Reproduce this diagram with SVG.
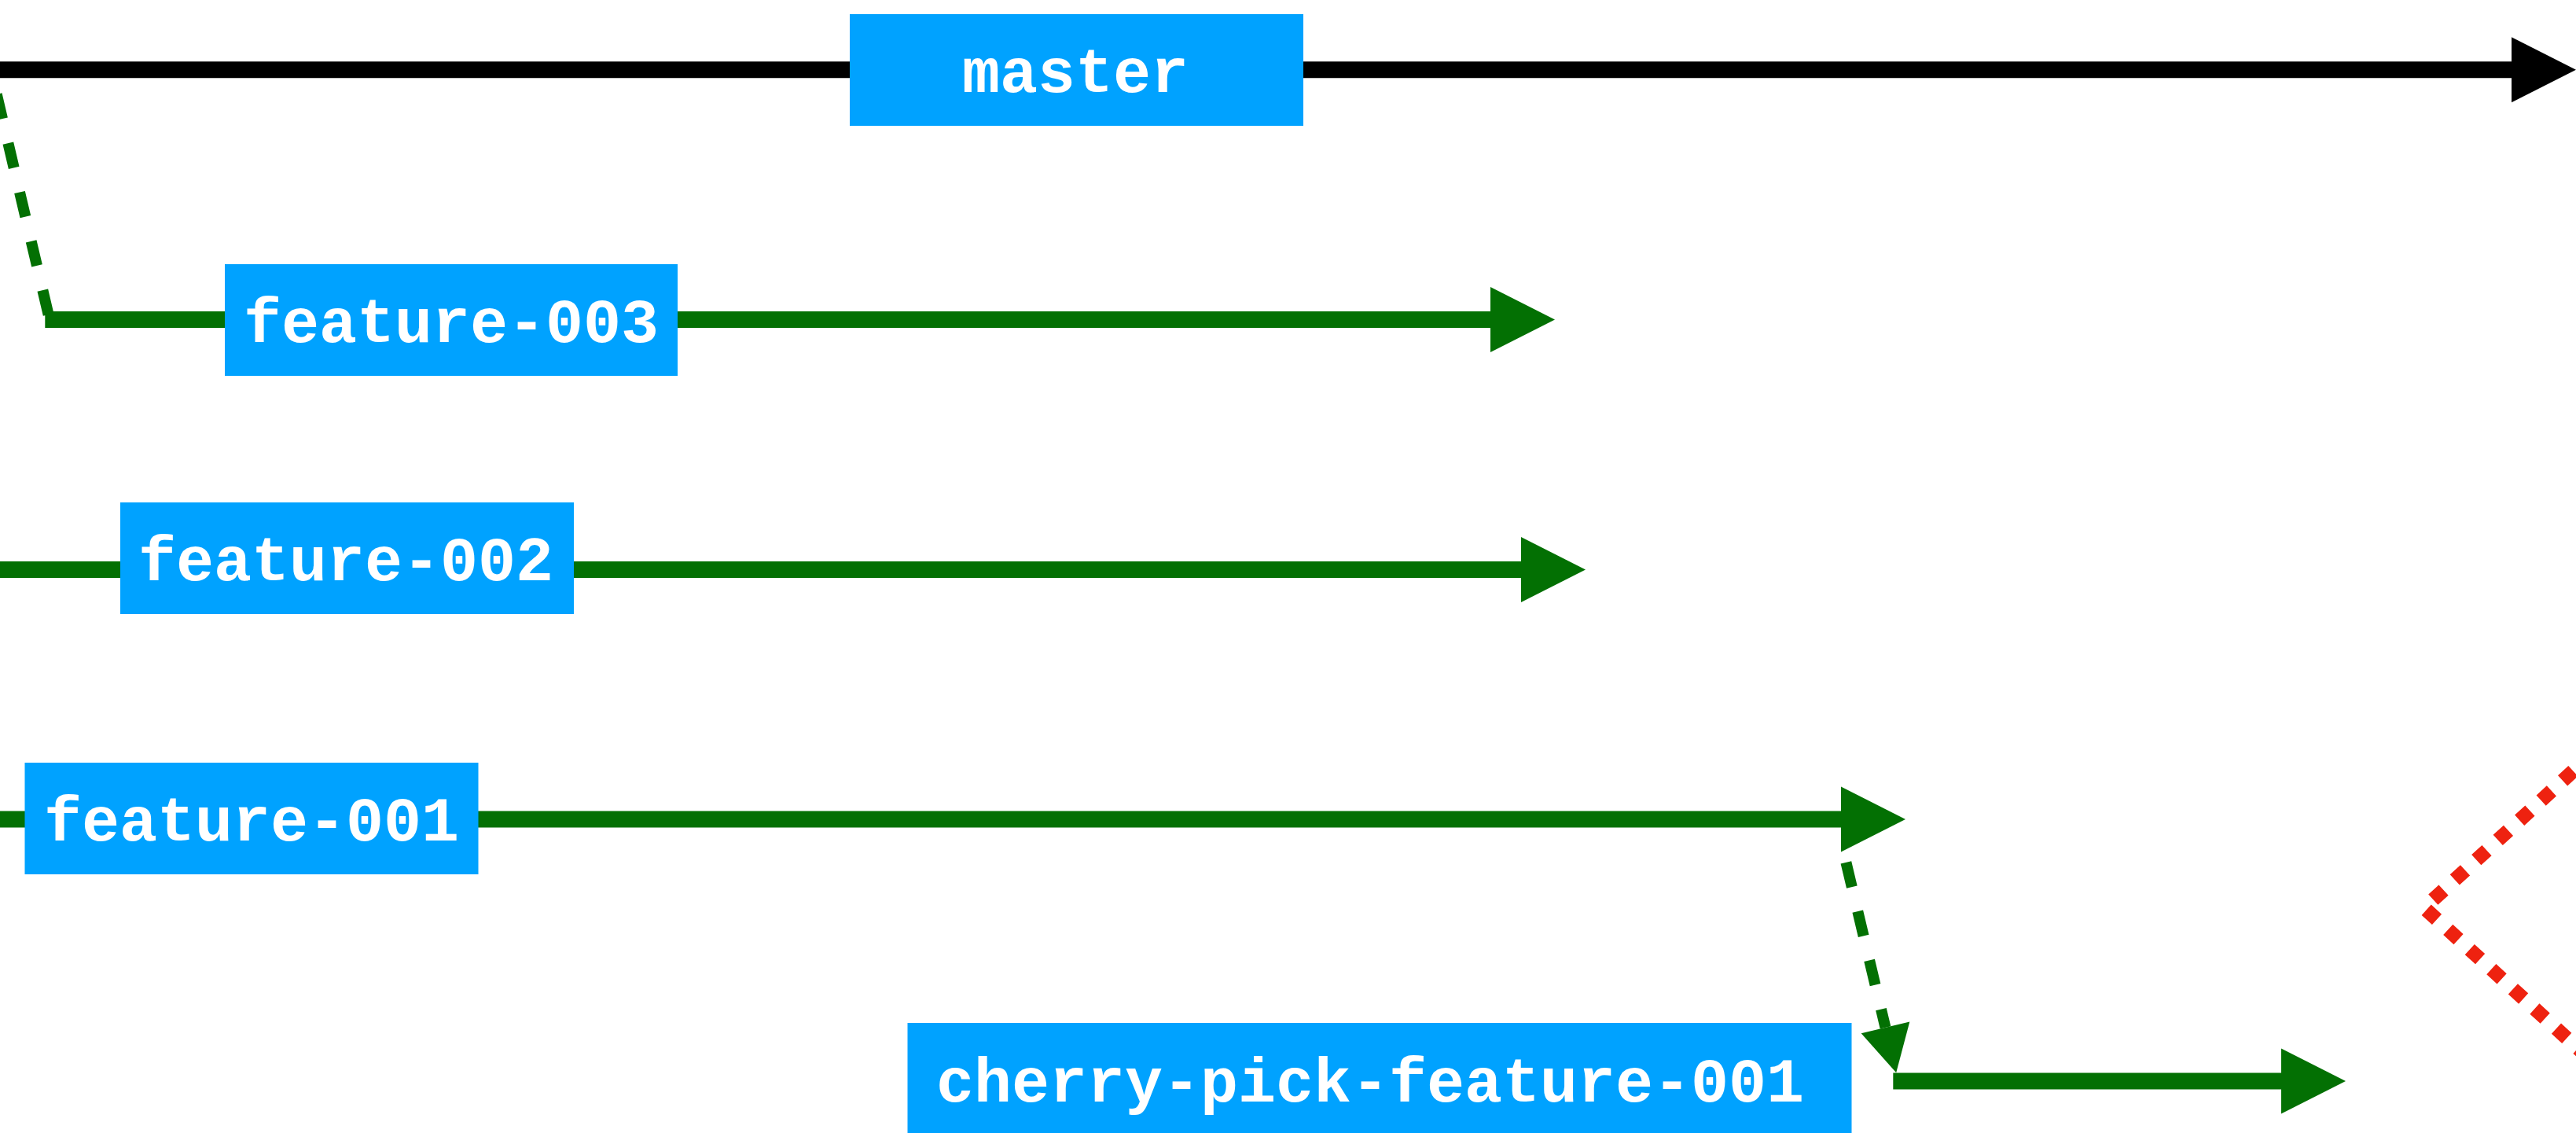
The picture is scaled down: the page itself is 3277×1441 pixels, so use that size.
<svg xmlns="http://www.w3.org/2000/svg" width="3277" height="1441" viewBox="0 0 3277 1441">
  <style>
    .box { fill: #00A2FF; }
    .lbl { font-family: "Liberation Mono", "Courier New", monospace; font-weight: bold; font-size: 80px; fill: #FFFFFF; text-anchor: middle; }
    .solid-g { stroke: #037003; stroke-width: 21; fill: none; }
    .solid-k { stroke: #000000; stroke-width: 21; fill: none; }
    .dash-g { stroke: #037003; stroke-width: 14; fill: none; stroke-dasharray: 32 32; }
    .dot-r { stroke: #EE2210; stroke-width: 18; fill: none; stroke-dasharray: 18 19.3; stroke-dashoffset: 14.7; }
  </style>
  <defs>
    <marker id="arrK" markerUnits="userSpaceOnUse" markerWidth="82" markerHeight="83" refX="0" refY="41.5" orient="auto" overflow="visible">
      <path d="M0,0 L82,41.5 L0,83 z" fill="#000000"/>
    </marker>
    <marker id="arrG" markerUnits="userSpaceOnUse" markerWidth="82" markerHeight="83" refX="0" refY="41.5" orient="auto" overflow="visible">
      <path d="M0,0 L82,41.5 L0,83 z" fill="#037003"/>
    </marker>
    <marker id="arrGs" markerUnits="userSpaceOnUse" markerWidth="59" markerHeight="64" refX="0" refY="31.7" orient="auto" overflow="visible">
      <path d="M0,0 L59,31.7 L0,63.4 z" fill="#037003"/>
    </marker>
  </defs>
  <rect width="3277" height="1441" fill="#FFFFFF"/>

  <g id="connectors">
    <path class="solid-k" d="M0,88.8 L3195,88.8" marker-end="url(#arrK)"/>
    <path class="dash-g" d="M-4.3,119.9 L63,406"/>
    <path class="solid-g" d="M57.3,406.5 L1896,406.5" marker-end="url(#arrG)"/>
    <path class="solid-g" d="M0,724.5 L1935,724.5" marker-end="url(#arrG)"/>
    <path class="solid-g" d="M0,1042 L2342,1042" marker-end="url(#arrG)"/>
    <path class="dash-g" d="M2348.4,1096.9 L2398.5,1306.8" marker-end="url(#arrGs)"/>
    <path class="solid-g" d="M2408.3,1375 L2902,1375" marker-end="url(#arrG)"/>
    <path class="dot-r" d="M3290,965.3 L3083.9,1154.7 L3290,1342.9"/>
  </g>

  <g id="master">
    <rect class="box" x="1081" y="18" width="577" height="142"/>
    <text class="lbl" x="1368" y="117">master</text>
  </g>
  <g id="feature-003">
    <rect class="box" x="286" y="336" width="576" height="142"/>
    <text class="lbl" x="574" y="434.5">feature-003</text>
  </g>
  <g id="feature-002">
    <rect class="box" x="153" y="639" width="577" height="142"/>
    <text class="lbl" x="440" y="737.5">feature-002</text>
  </g>
  <g id="feature-001">
    <rect class="box" x="31.5" y="970" width="577" height="142"/>
    <text class="lbl" x="320" y="1068.5">feature-001</text>
  </g>
  <g id="cherry-pick-feature-001">
    <rect class="box" x="1154.5" y="1301" width="1201" height="142"/>
    <text class="lbl" x="1743" y="1401">cherry-pick-feature-001</text>
  </g>
</svg>
